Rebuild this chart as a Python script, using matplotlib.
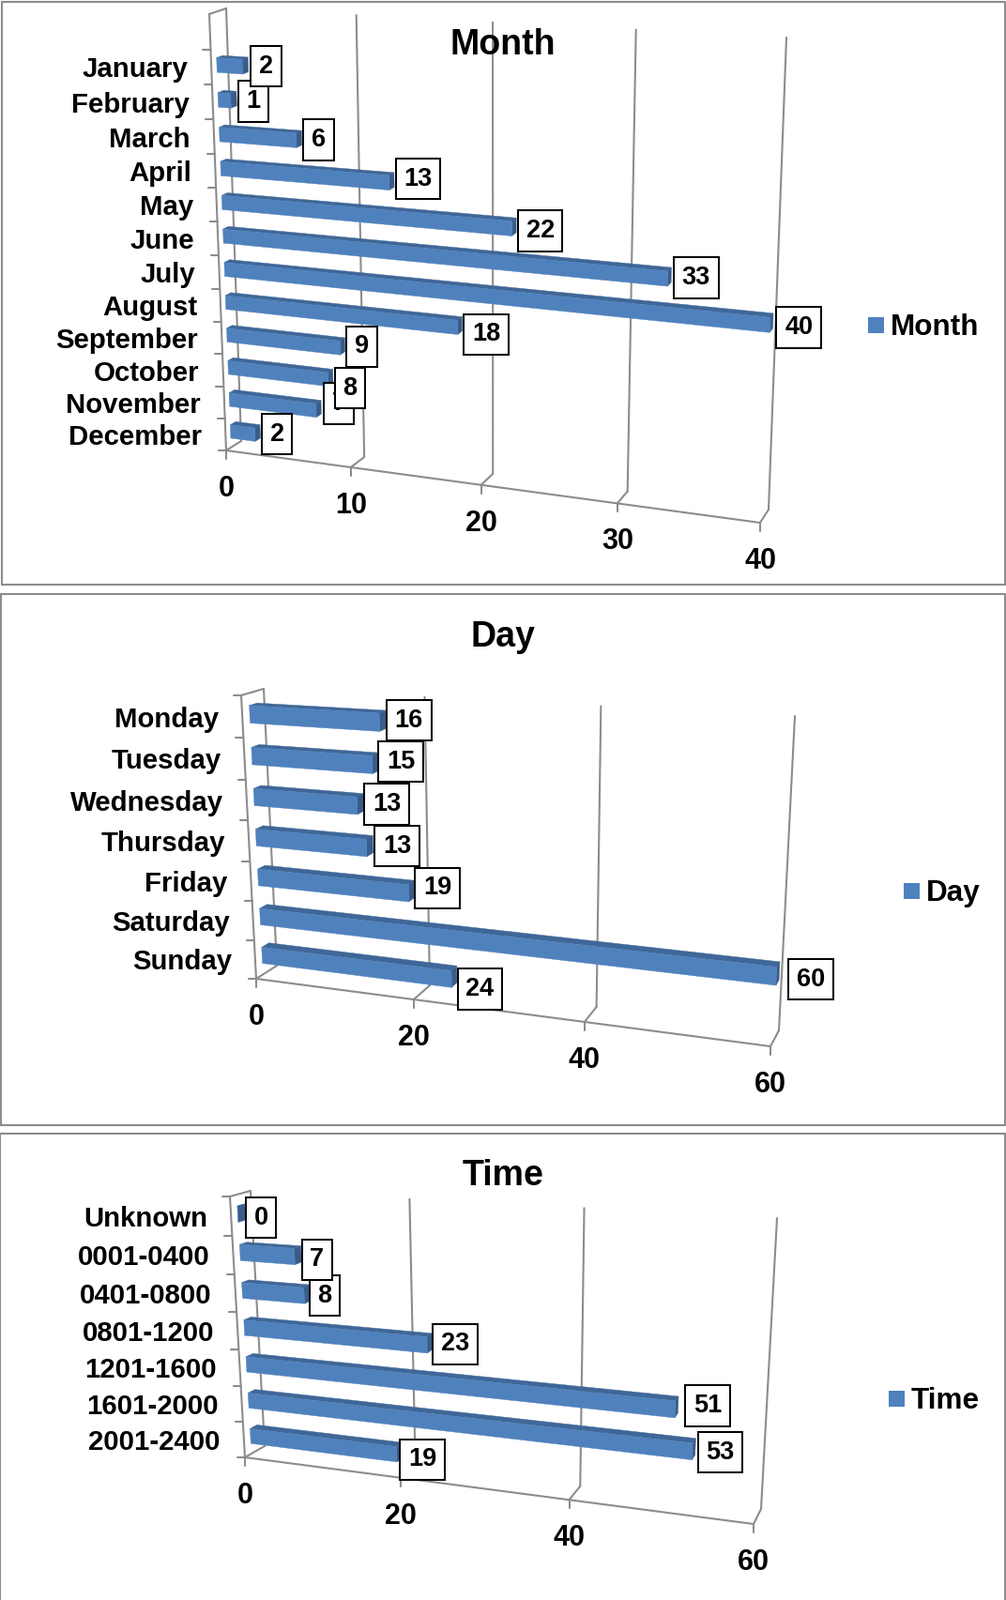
import numpy as np
import matplotlib
matplotlib.use('Agg')
from matplotlib import pyplot as plt
from matplotlib.patches import Rectangle

plt.rcParams['font.family'] = ['Liberation Sans', 'DejaVu Sans']
plt.rcParams['font.weight'] = 'bold'

# values
months = ['January', 'February', 'March', 'April', 'May', 'June', 'July',
          'August', 'September', 'October', 'November', 'December']
month_counts = [2, 1, 6, 13, 22, 33, 40, 18, 9, 8, 7, 2]
month_labels = [2, 1, 6, 13, 22, 33, 40, 18, 9, 8, 7, 2]
month_ticks = [0, 10, 20, 30, 40]

days = ['Monday', 'Tuesday', 'Wednesday', 'Thursday', 'Friday', 'Saturday', 'Sunday']
# Thursday's bar is drawn longer than its printed 13
day_counts = [16, 15, 13, 14, 19, 60, 24]
day_labels = [16, 15, 13, 13, 19, 60, 24]
day_ticks = [0, 20, 40, 60]

times = ['Unknown', '0001-0400', '0401-0800', '0801-1200', '1201-1600', '1601-2000', '2001-2400']
time_counts = [0, 7, 8, 23, 51, 53, 19]
time_labels = [0, 7, 8, 23, 51, 53, 19]
time_ticks = [0, 20, 40, 60]

# the value boxes were moved by hand in the original, pixels off the bar end
month_nudge = [(0, 3), (-1, 4), (-1, 3), (-1, 0), (-1, 7), (0, 4), (1, 8), (-1, 12), (-1, 3), (-1, 14), (0, -3), (-1, 4)]
day_nudge = [(-2, 2), (-3, 1), (-2, 3), (-1, 3), (-2, 0), (7, 10), (-2, 17)]
time_nudge = [(-2, 7), (-2, 7), (-4, 4), (-2, 4), (5, 2), (0, 7), (-5, 11)]

GRID = '#8c8c8c'
FRONT = '#4f81bd'
TOP = '#3f6797'
SIDE = '#385d8a'
D0, D1 = 0.33, 0.68   # where the bars sit between the front and the back wall
BAR = 0.42


def homography(corners):
    # unit square -> picture, corners are (0,0), (1,0), (1,1), (0,1)
    src = [(0, 0), (1, 0), (1, 1), (0, 1)]
    A, b = [], []
    for (u, v), (x, y) in zip(src, corners):
        A.append([u, v, 1, 0, 0, 0, -u * x, -v * x])
        A.append([0, 0, 0, u, v, 1, -u * y, -v * y])
        b += [x, y]
    return np.append(np.linalg.solve(np.array(A, float), np.array(b, float)), 1).reshape(3, 3)


def draw_panel(ax, name, cats, vals, labels, ticks, nudge, front, back, slots, title_xy, swatch, legend_x):
    hf, hb = homography(front), homography(back)
    vmax = ticks[-1]

    def P(v, y, d=0.0):
        # v on the value axis, y in category slots from the floor, d = depth 0..1
        p = np.array([v / vmax, y / slots, 1.0])
        a = hf @ p
        c = hb @ p
        a, c = a[:2] / a[2], c[:2] / c[2]
        return (1 - d) * a + d * c

    def line(p, q, **kw):
        ax.plot([p[0], q[0]], [p[1], q[1]], color=GRID, lw=1.5, solid_capstyle='round', zorder=1, **kw)

    # walls and floor
    line(P(0, 0), P(0, slots))
    line(P(0, slots), P(0, slots, 1))
    line(P(0, 0), P(vmax, 0))
    for t in ticks:
        line(P(t, 0), P(t, 0, 1))
        line(P(t, 0, 1), P(t, slots, 1))
        x, y = P(t, 0)
        line((x, y), (x, y + 9))
        ax.text(x, y + 41, str(t), fontsize=22, ha='center', va='center')
    for k in range(len(cats) + 1):
        x, y = P(0, k)
        line((x, y), (x - 8, y))

    n = len(cats)
    for i, (cat, val) in enumerate(zip(cats, vals)):
        yc = n - i - 0.5
        y0, y1 = yc - BAR / 2, yc + BAR / 2
        faces = [
            ([P(0, y1, D0), P(val, y1, D0), P(val, y1, D1), P(0, y1, D1)], TOP),
            ([P(val, y0, D0), P(val, y0, D1), P(val, y1, D1), P(val, y1, D0)], SIDE),
            ([P(0, y0, D0), P(val, y0, D0), P(val, y1, D0), P(0, y1, D0)], FRONT),
        ]
        for pts, col in faces:
            ax.fill(*zip(*pts), color=col, lw=0.3, zorder=3)

        # category label next to the front edge
        x, y = P(0, yc)
        ax.text(x - 25, y + 3, cat, fontsize=21.2, ha='right', va='center')

        # value box, earlier categories stay on top
        x, y = P(val, yc, D1)
        ax.text(x + 11.4 + nudge[i][0], y - 1 + nudge[i][1], str(labels[i]), fontsize=19.5, ha='left', va='center',
                zorder=10 + n - i, bbox=dict(boxstyle='square,pad=0.32', fc='white', ec='black', lw=1.45))

    ax.text(title_xy[0], title_xy[1] + 3, name, fontsize=27, ha='center', va='center')
    ax.add_patch(Rectangle((swatch[0], swatch[1]), 17, 17, fc=FRONT, ec='none'))
    ax.text(legend_x, swatch[1] + 11, name, fontsize=22.7, ha='left', va='center')


fig = plt.figure(figsize=(10.72, 17.05), dpi=100)
ax = fig.add_axes([0, 0, 1, 1])
ax.set_xlim(0, 1072)
ax.set_ylim(1705, 0)
ax.axis('off')

# panel frames
for x, y, w, h in [(2, 2, 1069, 621), (1, 633, 1070, 566), (0, 1208, 1071, 520)]:
    ax.add_patch(Rectangle((x, y), w, h, fc='white', ec='#8c8c8c', lw=1.5, zorder=0))

draw_panel(ax, 'Month', months, month_counts, month_labels, month_ticks, month_nudge,
           [(241, 480), (810, 557), (828, 50), (223, 15)],
           [(257, 470), (819, 543), (838, 40), (241, 9)],
           13, (536, 45), (925, 338), 949)
draw_panel(ax, 'Day', days, day_counts, day_labels, day_ticks, day_nudge,
           [(273, 1043), (821, 1115), (837, 775), (257, 741)],
           [(295, 1029), (830, 1098), (847, 763), (281, 734)],
           7, (536, 676), (963, 941), 987)
draw_panel(ax, 'Time', times, time_counts, time_labels, time_ticks, time_nudge,
           [(261, 1553), (803, 1624), (820, 1310), (245, 1275)],
           [(282, 1541), (811, 1608), (828, 1298), (267, 1269)],
           7, (536, 1250), (947, 1482), 971)

fig.savefig('out.png', dpi=100)
